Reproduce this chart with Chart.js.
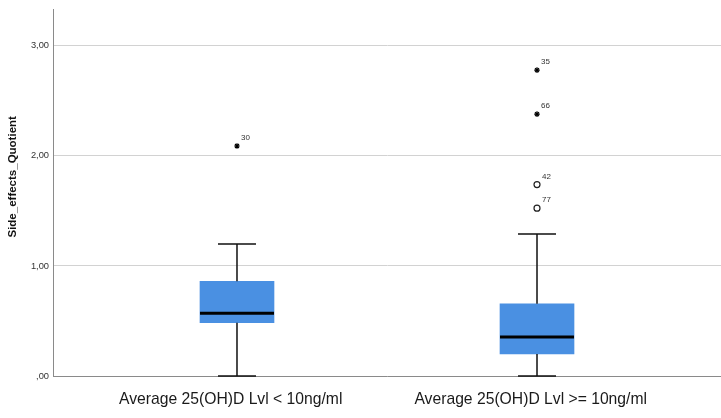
<!DOCTYPE html>
<html>
<head>
<meta charset="utf-8">
<script src="https://cdn.jsdelivr.net/npm/chart.js@4"></script>
<style>
html,body{margin:0;padding:0;background:#fff;}
#wrap{width:721px;height:418px;}
</style>
</head>
<body>
<div id="wrap"><canvas id="c" width="721" height="418"></canvas></div>
<script>
// ---- data ----
const categories = ['Average 25(OH)D Lvl < 10ng/ml', 'Average 25(OH)D Lvl >= 10ng/ml'];
const whiskerLow = [0, 0];
const q1 = [0.485, 0.20];
const median = [0.57, 0.355];
const q3 = [0.86, 0.657];
const whiskerHigh = [1.20, 1.29];
// extreme values (stars)
const extremeGroup = [0, 1, 1];
const extremeValue = [2.09, 2.78, 2.38];
const extremeId = ['30', '35', '66'];
// outliers (circles)
const outlierGroup = [1, 1];
const outlierValue = [1.74, 1.525];
const outlierId = ['42', '77'];
const yTicks = [0, 1, 2, 3];
const yTickLabels = [',00', '1,00', '2,00', '3,00'];
const yTitle = 'Side_effects_Quotient';

const boxColor = 'rgb(74,144,226)';

const boxPlugin = {
  id: 'boxParts',
  afterDatasetsDraw(chart) {
    const ctx = chart.ctx;
    const xs = chart.scales.x, ys = chart.scales.y;
    ctx.save();
    for (let i = 0; i < categories.length; i++) {
      const cx = xs.getPixelForValue(i);
      const capHalf = 19;
      const boxHalf = 37;
      ctx.strokeStyle = '#111';
      ctx.lineWidth = 1.5;
      ctx.beginPath();
      ctx.moveTo(cx, ys.getPixelForValue(q3[i]));
      ctx.lineTo(cx, ys.getPixelForValue(whiskerHigh[i]));
      ctx.moveTo(cx, ys.getPixelForValue(q1[i]));
      ctx.lineTo(cx, ys.getPixelForValue(whiskerLow[i]));
      const yh = ys.getPixelForValue(whiskerHigh[i]);
      const yl = ys.getPixelForValue(whiskerLow[i]);
      ctx.moveTo(cx - capHalf, yh); ctx.lineTo(cx + capHalf, yh);
      ctx.moveTo(cx - capHalf, yl); ctx.lineTo(cx + capHalf, yl);
      ctx.stroke();
      ctx.lineWidth = 3;
      ctx.strokeStyle = '#000';
      ctx.beginPath();
      const ym = ys.getPixelForValue(median[i]);
      ctx.moveTo(cx - boxHalf, ym); ctx.lineTo(cx + boxHalf, ym);
      ctx.stroke();
    }
    ctx.fillStyle = '#333';
    ctx.font = '8px "Liberation Sans", Arial, sans-serif';
    ctx.textAlign = 'left';
    ctx.textBaseline = 'middle';
    extremeValue.forEach((v, k) => {
      ctx.fillText(extremeId[k], xs.getPixelForValue(extremeGroup[k]) + 4, ys.getPixelForValue(v) - 8);
    });
    outlierValue.forEach((v, k) => {
      ctx.fillText(outlierId[k], xs.getPixelForValue(outlierGroup[k]) + 5, ys.getPixelForValue(v) - 8);
    });
    ctx.restore();
  }
};

new Chart(document.getElementById('c'), {
  type: 'bar',
  data: {
    datasets: [
      {
        type: 'bar',
        data: categories.map((c, i) => ({ x: i, y: [q1[i], q3[i]] })),
        backgroundColor: boxColor,
        borderWidth: 0,
        barThickness: 74,
        order: 2
      },
      {
        type: 'scatter',
        data: extremeValue.map((v, k) => ({ x: extremeGroup[k], y: v })),
        pointStyle: 'star',
        radius: 2.8,
        borderColor: '#000',
        backgroundColor: '#000',
        borderWidth: 1.2,
        order: 1
      },
      {
        type: 'scatter',
        data: outlierValue.map((v, k) => ({ x: outlierGroup[k], y: v })),
        pointStyle: 'circle',
        radius: 3,
        borderColor: '#222',
        backgroundColor: '#fff',
        borderWidth: 1.2,
        order: 1
      }
    ]
  },
  options: {
    responsive: false,
    animation: false,
    devicePixelRatio: 1,
    layout: { autoPadding: false, padding: { top: 7, right: 0, bottom: 0, left: 0 } },
    plugins: { legend: { display: false }, tooltip: { enabled: false } },
    scales: {
      x: {
        type: 'linear',
        offset: false,
        min: -0.6133,
        max: 1.6133,
        grid: { display: false, offset: false, drawTicks: false },
        border: { display: true, color: '#8a8a8a', width: 1 },
        afterBuildTicks: (s) => { s.ticks = categories.map((c, i) => ({ value: i - 0.021 })); },
        afterFit: (s) => { s.height = 42; s.paddingLeft = 0; s.paddingRight = 0; },
        ticks: {
          autoSkip: false,
          maxRotation: 0,
          padding: 14,
          color: '#1a1a1a',
          font: { family: '"Liberation Sans", Arial, sans-serif', size: 15.7 },
          callback: (v) => categories[Math.round(v)]
        }
      },
      y: {
        type: 'linear',
        min: 0,
        max: 3.33,
        grid: { color: '#d2d2d2', lineWidth: 1, drawTicks: false },
        border: { display: true, color: '#8a8a8a', width: 1 },
        afterBuildTicks: (s) => { s.ticks = yTicks.map(v => ({ value: v })); },
        afterFit: (s) => { s.width = 53; },
        ticks: {
          padding: 4,
          color: '#333',
          font: { family: '"Liberation Sans", Arial, sans-serif', size: 9.3 },
          callback: (v) => yTickLabels[yTicks.indexOf(v)]
        },
        title: {
          display: true,
          text: '          ' + yTitle,
          color: '#111',
          padding: { top: 6, bottom: 0 },
          font: { family: '"Liberation Sans", Arial, sans-serif', size: 11.5, weight: 'bold' }
        }
      }
    }
  },
  plugins: [boxPlugin]
});
</script>
</body>
</html>
